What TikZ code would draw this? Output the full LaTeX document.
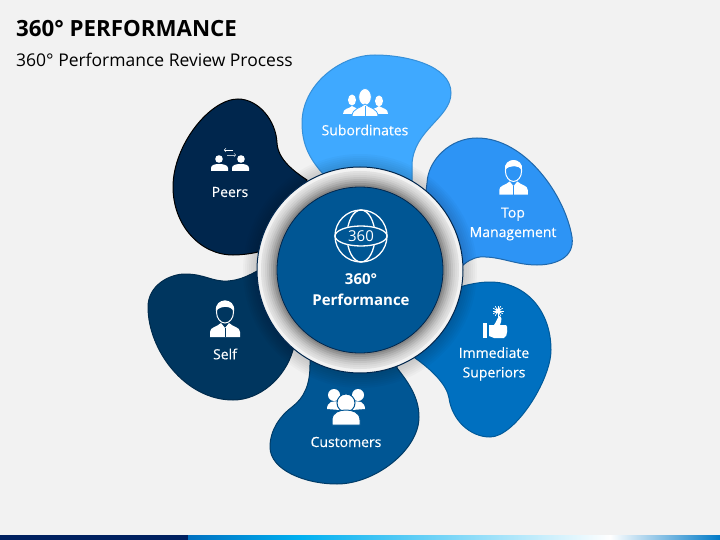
\documentclass[tikz,border=0pt]{standalone}
\usepackage{fontspec}
\usepackage{xcolor}
\setmainfont{Open Sans}
\newfontfamily\labelfont[FakeBold=0.25]{Open Sans}
\definecolor{pagegray}{HTML}{F2F2F2}
\definecolor{subcol}{HTML}{3FA9FF}
\definecolor{topcol}{HTML}{2D94F5}
\definecolor{supcol}{HTML}{0070C0}
\definecolor{cuscol}{HTML}{005694}
\definecolor{selfcol}{HTML}{00365F}
\definecolor{peercol}{HTML}{00264D}
\definecolor{barnavy}{HTML}{002060}
\definecolor{barcyan}{HTML}{00B0F0}
\tikzset{
  blob/.style={line width=1pt},
  label/.style={text=white,align=center,font=\fontsize{14}{19.5}\labelfont},
  icon/.style={fill=white,draw=none},
  suitperson/.pic={
    \draw[white,line width=1pt] (0,0) ellipse [x radius=8.5pt,y radius=11pt];
    \fill[white] (-9,-1) .. controls (-11,-15) and (11,-15) .. (9,-1) .. controls (6,-6) and (-4,-7) .. (-9,-1) -- cycle;
    \fill[white] (-15,25) -- (-15,20) .. controls (-15,15) and (-8,15) .. (-4,11) -- (0,16) -- (4,11) .. controls (8,15) and (15,15) .. (15,20) -- (15,25) -- cycle;
    \draw[#1,line width=.7pt] (0,16) -- (0,25);
  }
}
\begin{document}
\begin{tikzpicture}[x=1pt,y=-1pt]
\useasboundingbox (0,0) rectangle (720,540);
\fill[pagegray] (0,0) rectangle (720,540);
\fill[barnavy] (0,535) rectangle (188,540);
\shade[left color=supcol,right color=barcyan] (188,535) rectangle (300,540);
\shade[left color=barcyan,right color=white] (300,535) rectangle (610,540);
\shade[left color=white,right color=supcol!85!barcyan] (610,535) rectangle (720,540);
\node[anchor=base west,inner sep=0pt,font=\fontsize{22.3}{24}\selectfont\bfseries] (title) at (16,37) {360° PERFORMANCE};
\node[anchor=base west,inner sep=0pt,font=\fontsize{17.5}{20}\selectfont] (subtitle) at (16,66.5) {360° Performance Review Process};

\draw[blob,fill=subcol,draw=subcol!85!black] (375,55) .. controls (405,55) and (451,65) .. (451,93) .. controls (451,118) and (413,130) .. (412,165) -- (412,185) -- (325,176) .. controls (310,160) and (302,145) .. (302,123) .. controls (302,85) and (340,55) .. (375,55) -- cycle;
\draw[blob,fill=topcol,draw=topcol!70!black] (477,138) .. controls (525,138) and (565,195) .. (572,237) .. controls (575,258) and (555,265) .. (537,265) .. controls (515,265) and (500,256) .. (480,257) .. controls (472,258) and (466,262) .. (460,268) -- (420,240) -- (427,183) .. controls (428,160) and (450,138) .. (477,138) -- cycle;
\draw[blob,fill=supcol,draw=supcol!80!black] (450,290) .. controls (465,285) and (478,282) .. (490,282) .. controls (525,282) and (551,310) .. (551,350) .. controls (551,380) and (515,437) .. (490,437) .. controls (470,437) and (452,420) .. (449,398) .. controls (447,385) and (432,370) .. (415,358) -- (420,310) -- cycle;
\draw[blob,fill=cuscol,draw=cuscol!70!black] (310,350) -- (310,365) .. controls (310,385) and (304,398) .. (292,407) .. controls (280,416) and (270,430) .. (270,447) .. controls (270,470) and (305,484) .. (337,484) .. controls (375,484) and (419,450) .. (419,417) .. controls (419,397) and (408,382) .. (397,368) -- (397,350) -- cycle;
\draw[blob,fill=selfcol,draw=selfcol!80!black] (148,307) .. controls (148,285) and (170,274) .. (185,274) .. controls (205,274) and (212,282) .. (228,281) .. controls (240,280) and (248,276) .. (259,270) -- (300,300) -- (293,350) .. controls (285,378) and (260,400) .. (233,400) .. controls (185,400) and (148,350) .. (148,307) -- cycle;
\draw[blob,fill=peercol,draw=black] (238,99) .. controls (258,99) and (276,120) .. (277,143) .. controls (278,160) and (295,172) .. (307,180) -- (290,230) -- (258,252) .. controls (250,254) and (240,255) .. (233,255) .. controls (200,255) and (173,225) .. (173,187) .. controls (173,145) and (210,99) .. (238,99) -- cycle;

\foreach \r in {0,2,...,14}
  \fill[black,opacity=.025] (360,271) circle ({117pt-\r pt});
\fill[pagegray] (360,270) circle (103pt);
\draw[peercol,line width=1pt] (360,270) circle (103pt);
\foreach \r/\g in {99/7,97/10,95/14,93/19,91/25,89/31,87/38,85/45}
  \fill[black!\g!pagegray] (360,270) circle (\r pt);
\fill[cuscol] (360,270) circle (83pt);
\draw[peercol,line width=.8pt] (360,270) circle (83pt);

\draw[white,line width=1.3pt] (361,236) ellipse [x radius=14pt,y radius=26pt];
\fill[cuscol,draw=white,line width=1.3pt] (361,236) ellipse [x radius=26pt,y radius=10pt];
\draw[white,line width=1.3pt] (361,236) circle (26pt);
\node[text=white,inner sep=0pt,font=\fontsize{15}{15}\selectfont] (globe) at (361,236) {360};
\node[label,font=\fontsize{15}{21}\selectfont\bfseries] (center) at (361,290) {360°\\Performance};

\node[label] (subordinates) at (365,130) {Subordinates};
\node[label] (topmgmt) at (513,224) {Top\\Management};
\node[label] (superiors) at (494,364) {Immediate\\Superiors};
\node[label] (customers) at (346,442) {Customers};
\node[label] (self) at (225,354) {Self};
\node[label] (peers) at (230,192) {Peers};

\fill[icon] (352,100) ellipse [x radius=4pt,y radius=5.5pt];
\fill[icon] (379,101) ellipse [x radius=4pt,y radius=5.5pt];
\fill[icon] (343,114) .. controls (343,108) and (349,109) .. (352,106) .. controls (356,109) and (361,108) .. (361,114) -- cycle;
\fill[icon] (370,114) .. controls (370,108) and (376,109) .. (379,106) .. controls (383,109) and (388,108) .. (388,114) -- cycle;
\fill[icon,draw=subcol,line width=.8pt] (365,97) ellipse [x radius=6.3pt,y radius=8.5pt];
\fill[icon,draw=subcol,line width=.8pt] (352,116.5) .. controls (352,108) and (361,108) .. (365,104) .. controls (369,108) and (378,108) .. (378,116.5) -- cycle;
\draw[subcol,line width=.7pt] (365,106) -- (365,116);

\pic[scale=.95] at (513.5,171) {suitperson=topcol};
\pic at (225,312) {suitperson=selfcol};

\fill[icon] (483,323) rectangle (487,338);
\fill[icon] (489,325) -- (494,325) .. controls (497,321) and (497,318) .. (499,316) .. controls (502,316) and (502,320) .. (500,325) -- (506,325) .. controls (508,325) and (508,337) .. (504,338) -- (494,338) -- (489,336) -- cycle;
\fill[icon] (498,311) circle (2.5pt);
\foreach \a in {0,30,...,330}
  \draw[white,line width=.7pt] (498,311) -- ++(\a:5.5pt);

\fill[icon] (334,395) circle (6pt);
\fill[icon] (358,395) circle (6pt);
\fill[icon] (327,409) .. controls (327,402) and (333,400) .. (340,402) -- (340,410) -- cycle;
\fill[icon] (365,409) .. controls (365,402) and (359,400) .. (352,402) -- (352,410) -- cycle;
\fill[icon,draw=cuscol,line width=1pt] (346,403) circle (9pt);
\fill[icon,draw=cuscol,line width=1pt] (332,425) -- (332,420) .. controls (332,412) and (340,410) .. (346,410) .. controls (352,410) and (360,412) .. (360,420) -- (360,425) -- cycle;

\fill[icon] (219,159) circle (3.8pt);
\fill[icon] (241,159) circle (3.8pt);
\fill[icon] (211,171) -- (211,168) .. controls (211,165) and (215,164) .. (219,164) .. controls (223,164) and (228,165) .. (228,168) -- (228,171) -- cycle;
\fill[icon] (232,171) -- (232,168) .. controls (232,165) and (236,164) .. (241,164) .. controls (245,164) and (249,165) .. (249,168) -- (249,171) -- cycle;
\draw[white,line width=.6pt,->] (233,150) -- (224,150);
\draw[white!70!peercol,line width=.6pt,->] (227,155) -- (236,155);
\end{tikzpicture}
\end{document}
